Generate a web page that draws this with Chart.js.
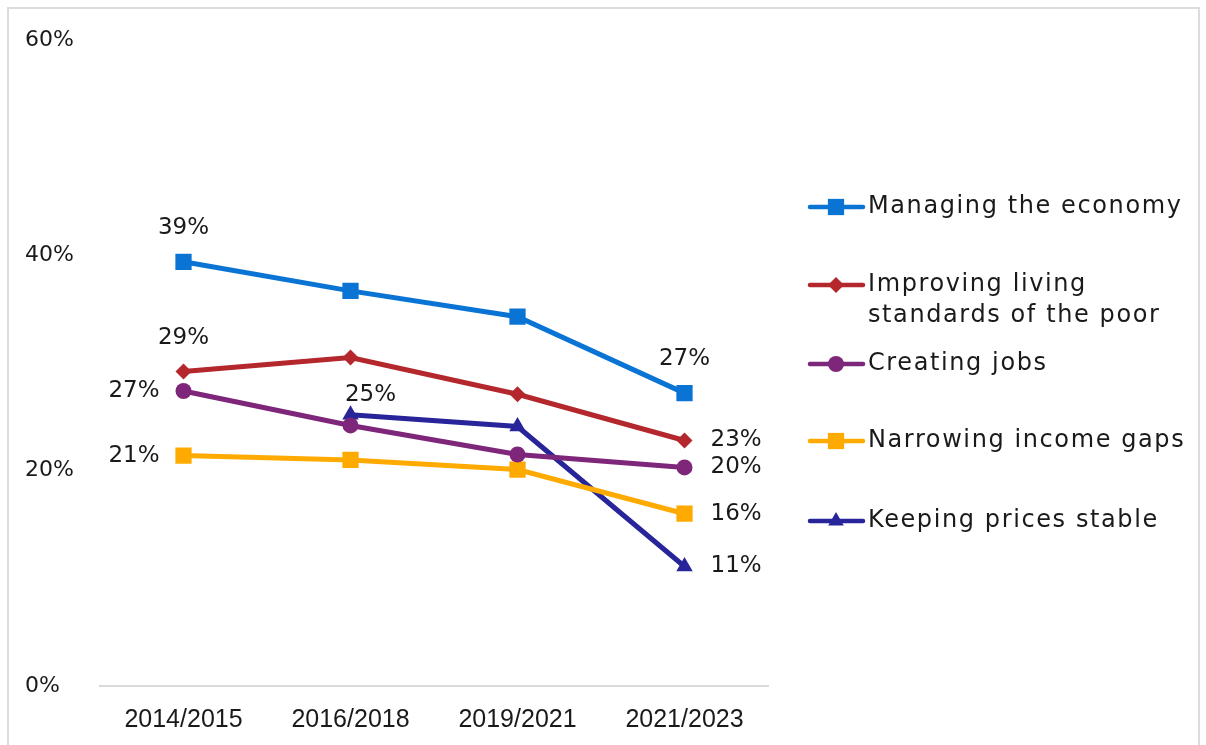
<!DOCTYPE html>
<html>
<head>
<meta charset="utf-8">
<script src="https://cdn.jsdelivr.net/npm/chart.js@4.4.0/dist/chart.umd.min.js"></script>
<style>
  html, body { margin: 0; padding: 0; background: #fff; overflow: hidden; }
  #frame { position: absolute; left: 7px; top: 7px; width: 1193px; height: 760px; border: 2px solid #dcdcdc; box-sizing: border-box; }
  #chart { position: absolute; left: 0; top: 0; }
</style>
</head>
<body>
<div id="frame"></div>
<canvas id="chart" width="1206" height="745"></canvas>
<script>
// categories (survey rounds)
const categories = ['2014/2015', '2016/2018', '2019/2021', '2021/2023'];

// series values (percent)
const managingEconomy = [39.4, 36.7, 34.3, 27.2];
const improvingLiving = [29.2, 30.5, 27.1, 22.8];
const creatingJobs    = [27.4, 24.2, 21.5, 20.3];
const narrowingGaps   = [21.4, 21.0, 20.1, 16.0];
const keepingPrices   = [null, 25.2, 24.1, 11.1];

const seriesNames = [
  'Managing the economy',
  'Improving living\nstandards of the poor',
  'Creating jobs',
  'Narrowing income gaps',
  'Keeping prices stable'
];

// y ticks shown
const yTicks = [0, 20, 40, 60];

const FONT = "'DejaVu Sans', sans-serif";
const colors = ['#0A74D4', '#B3272D', '#7E267A', '#FFAA00', '#28249A'];
const markers = ['rect', 'rectRot', 'circle', 'rect', 'triangle'];
const markerSize = [11.5, 8, 8, 11.5, 9.5];
const legendMarker = [11.5, 8, 8, 11.5, 9];

// which points get a value label, and where (index -> position)
const labelSpots = [
  { 0: 'above', 3: 'above' },
  { 0: 'above', 3: 'right' },
  { 0: 'left', 3: 'right' },
  { 0: 'left', 3: 'right' },
  { 1: 'aboveRight', 3: 'right' }
];

const allSeries = [managingEconomy, improvingLiving, creatingJobs, narrowingGaps, keepingPrices];

const datasets = allSeries.map((vals, i) => ({
  label: seriesNames[i],
  data: vals,
  borderColor: colors[i],
  backgroundColor: colors[i],
  borderWidth: 5,
  pointStyle: markers[i],
  pointRadius: markerSize[i],
  pointHoverRadius: markerSize[i],
  pointBorderWidth: 0,
  tension: 0,
  spanGaps: false
}));

// value labels next to chosen points
const valueLabels = {
  id: 'valueLabels',
  afterDatasetsDraw(chart) {
    const ctx = chart.ctx;
    ctx.save();
    ctx.font = '23px ' + FONT;
    ctx.fillStyle = '#1a1a1a';
    ctx.textBaseline = 'middle';
    chart.data.datasets.forEach((ds, i) => {
      const meta = chart.getDatasetMeta(i);
      Object.keys(labelSpots[i]).forEach(k => {
        const idx = +k;
        const v = ds.data[idx];
        if (v == null) return;
        const pt = meta.data[idx];
        const txt = Math.round(v) + '%';
        const pos = labelSpots[i][k];
        let x = pt.x, y = pt.y;
        if (pos === 'above') { ctx.textAlign = 'center'; y -= 34; }
        else if (pos === 'aboveRight') { ctx.textAlign = 'center'; x += 20; y -= 20; }
        else if (pos === 'left') { ctx.textAlign = 'right'; x -= 24; }
        else { ctx.textAlign = 'left'; x += 26; }
        ctx.fillText(txt, x, y);
      });
    });
    ctx.restore();
  }
};

// legend on the right side, drawn by hand
const sideLegend = {
  id: 'sideLegend',
  afterDraw(chart) {
    const ctx = chart.ctx;
    const rowsY = [207, 285, 364, 441, 521];
    ctx.save();
    chart.data.datasets.forEach((ds, i) => {
      const y = rowsY[i];
      ctx.strokeStyle = colors[i];
      ctx.fillStyle = colors[i];
      ctx.lineWidth = 4.5;
      ctx.lineCap = 'round';
      ctx.beginPath();
      ctx.moveTo(810, y);
      ctx.lineTo(863, y);
      ctx.stroke();
      Chart.helpers.drawPoint(ctx, { pointStyle: markers[i], radius: legendMarker[i], borderWidth: 0 }, 836, y);
      ctx.fillStyle = '#1a1a1a';
      ctx.font = '24px ' + FONT;
      ctx.letterSpacing = '1.6px';
      ctx.textBaseline = 'middle';
      ctx.textAlign = 'left';
      ds.label.split('\n').forEach((line, j) => {
        ctx.fillText(line, 868, y + j * 31);
      });
      ctx.letterSpacing = '0px';
    });
    ctx.restore();
  }
};

new Chart(document.getElementById('chart'), {
  type: 'line',
  data: { labels: categories, datasets: datasets },
  plugins: [valueLabels, sideLegend],
  options: {
    responsive: false,
    animation: false,
    layout: { padding: { left: 25, top: 40, right: 438, bottom: 0 } },
    plugins: {
      legend: { display: false },
      tooltip: { enabled: false }
    },
    scales: {
      x: {
        offset: true,
        grid: { display: false, drawTicks: false },
        border: { display: true, color: '#d9d9d9', width: 2 },
        ticks: {
          color: '#1a1a1a',
          font: { family: "'Liberation Sans', sans-serif", size: 25 },
          padding: 19,
          maxRotation: 0
        },
        afterFit(scale) { scale.height = 59; }
      },
      y: {
        min: 0,
        max: 60,
        afterBuildTicks(scale) { scale.ticks = yTicks.map(v => ({ value: v })); },
        grid: { display: false, drawTicks: false },
        border: { display: false },
        ticks: {
          color: '#1a1a1a',
          crossAlign: 'far',
          font: { family: FONT, size: 22 },
          callback: v => v + '%'
        },
        afterFit(scale) { scale.width = 75; }
      }
    }
  }
});
</script>
</body>
</html>
